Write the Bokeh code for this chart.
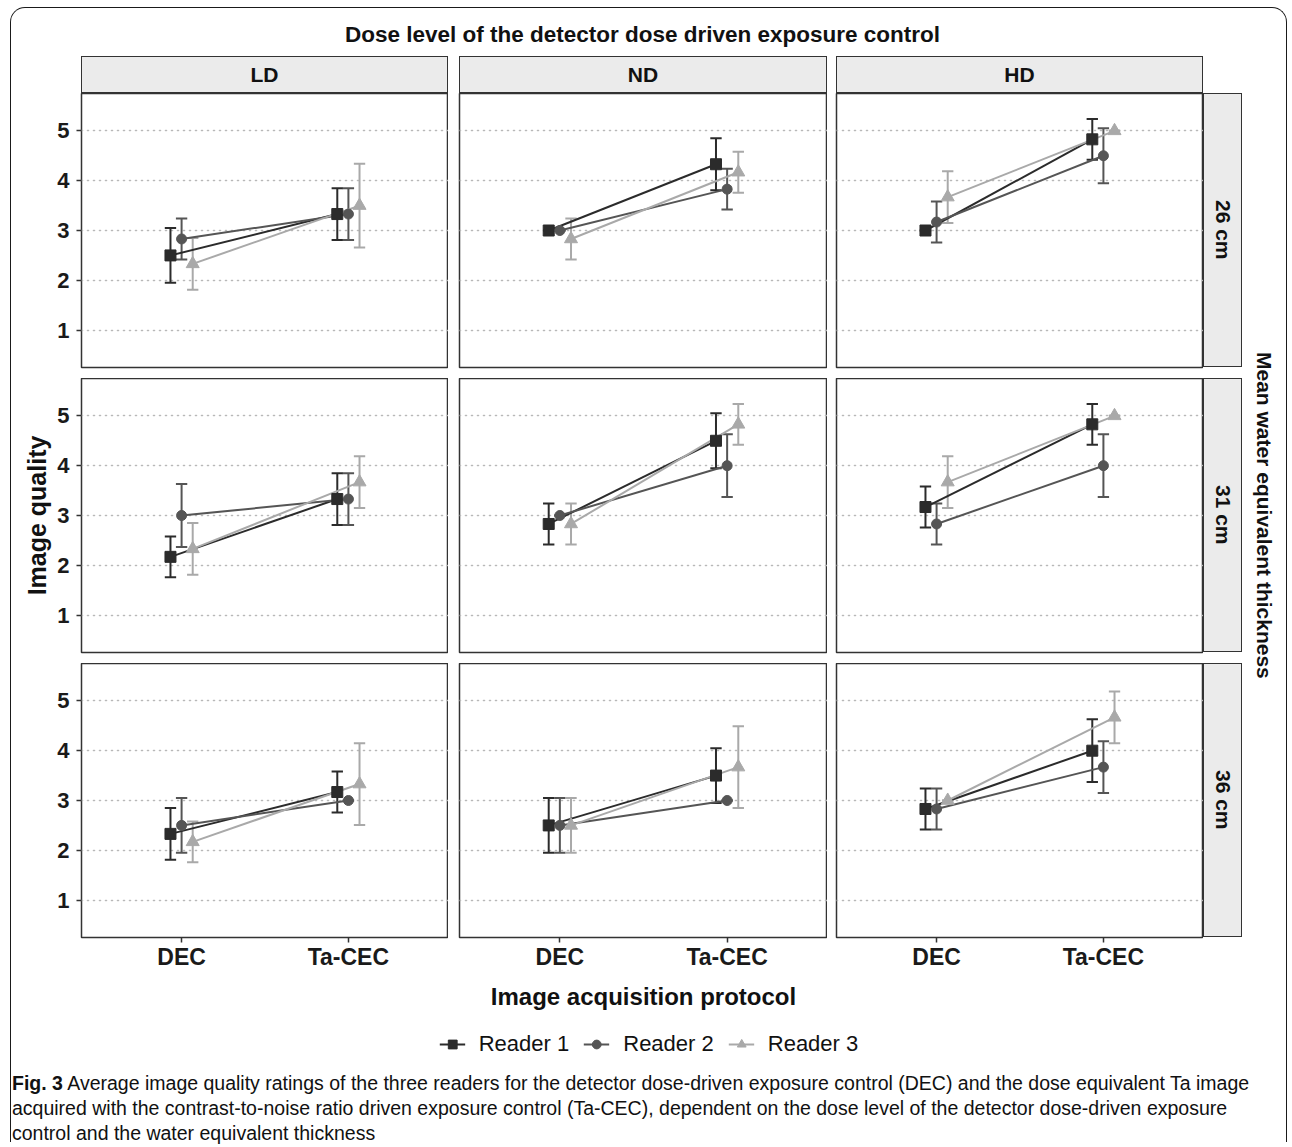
from bokeh.plotting import figure
from bokeh.layouts import row, column
from bokeh.models import Range1d, FixedTicker, Div, Spacer, Legend, LegendItem
from bokeh.embed import file_html
from bokeh.resources import INLINE

FONT = "Liberation Sans"

# ---------------- data ----------------
doses = ["LD", "ND", "HD"]
thicknesses = ["26 cm", "31 cm", "36 cm"]
protocols = ["DEC", "Ta-CEC"]
readers = ["Reader 1", "Reader 2", "Reader 3"]
y_ticks = [1, 2, 3, 4, 5]

# order: thickness (26, 31, 36) -> dose (LD, ND, HD) -> protocol (DEC, Ta-CEC)
reader1_mean = [2.50, 3.33, 3.00, 4.33, 3.00, 4.83,
                2.17, 3.33, 2.83, 4.50, 3.17, 4.83,
                2.33, 3.17, 2.50, 3.50, 2.83, 4.00]
reader1_sd = [0.55, 0.52, 0.00, 0.52, 0.00, 0.41,
              0.41, 0.52, 0.41, 0.55, 0.41, 0.41,
              0.52, 0.41, 0.55, 0.55, 0.41, 0.63]
reader2_mean = [2.83, 3.33, 3.00, 3.83, 3.17, 4.50,
                3.00, 3.33, 3.00, 4.00, 2.83, 4.00,
                2.50, 3.00, 2.50, 3.00, 2.83, 3.67]
reader2_sd = [0.41, 0.52, 0.00, 0.41, 0.41, 0.55,
              0.63, 0.52, 0.00, 0.63, 0.41, 0.63,
              0.55, 0.00, 0.55, 0.00, 0.41, 0.52]
reader3_mean = [2.33, 3.50, 2.83, 4.17, 3.67, 5.00,
                2.33, 3.67, 2.83, 4.83, 3.67, 5.00,
                2.17, 3.33, 2.50, 3.67, 3.00, 4.67]
reader3_sd = [0.52, 0.84, 0.41, 0.41, 0.52, 0.00,
              0.52, 0.52, 0.41, 0.41, 0.52, 0.00,
              0.41, 0.82, 0.55, 0.82, 0.00, 0.52]

means = [reader1_mean, reader2_mean, reader3_mean]
sds = [reader1_sd, reader2_sd, reader3_sd]

# ---------------- style ----------------
colors = ["#2b2b2b", "#555555", "#a9a9a9"]
markers = ["square", "circle", "triangle"]
msizes = [11, 10, 13]
dodge = [-0.2 / 3, 0.0, 0.2 / 3]
cap = 0.034

frame_w = [367, 368, 367]
left_b = [70, 11, 9]
frame_h = 274
row_gap = 11
bottom_b = 80

panels = []
for i, th in enumerate(thicknesses):
    rowfigs = []
    for j, dose in enumerate(doses):
        p = figure(frame_width=frame_w[j], frame_height=frame_h,
                   x_range=Range1d(0.4, 2.6), y_range=Range1d(0.25, 5.75),
                   x_axis_location="below" if i == 2 else None,
                   y_axis_location="left" if j == 0 else None,
                   output_backend="svg", toolbar_location=None, title=None,
                   min_border_left=left_b[j], min_border_right=0, min_border_top=0,
                   min_border_bottom=bottom_b if i == 2 else row_gap,
                   background_fill_color="white", border_fill_color=None,
                   outline_line_color="#333333", outline_line_width=1.5)
        p.xgrid.visible = False
        p.ygrid.ticker = FixedTicker(ticks=y_ticks)
        p.ygrid.grid_line_color = "#b8b8b8"
        p.ygrid.grid_line_dash = "1 5"
        p.ygrid.grid_line_width = 1.6
        p.ygrid.grid_line_cap = "round"
        if j == 0:
            ax = p.yaxis[0]
            ax.ticker = FixedTicker(ticks=y_ticks)
            ax.axis_line_color = None
            ax.major_tick_out = 5
            ax.major_tick_in = 0
            ax.minor_tick_out = 0
            ax.minor_tick_in = 0
            ax.major_tick_line_color = "#333333"
            ax.major_tick_line_width = 1.5
            ax.major_label_standoff = 7
            ax.major_label_text_font = FONT
            ax.major_label_text_font_size = "22px"
            ax.major_label_text_font_style = "bold"
            ax.major_label_text_color = "#1a1a1a"
            if i == 1:
                ax.axis_label = "Image quality"
                ax.axis_label_text_font = FONT
                ax.axis_label_text_font_size = "25px"
                ax.axis_label_text_font_style = "bold"
                ax.axis_label_text_color = "#111111"
                ax.axis_label_standoff = 3
        if i == 2:
            ax = p.xaxis[0]
            ax.ticker = FixedTicker(ticks=[1, 2])
            ax.major_label_overrides = {1: protocols[0], 2: protocols[1]}
            ax.axis_line_color = None
            ax.major_tick_out = 5
            ax.major_tick_in = 0
            ax.minor_tick_out = 0
            ax.minor_tick_in = 0
            ax.major_tick_line_color = "#333333"
            ax.major_tick_line_width = 1.5
            ax.major_label_standoff = 1
            ax.major_label_text_font = FONT
            ax.major_label_text_font_size = "23px"
            ax.major_label_text_font_style = "bold"
            ax.major_label_text_color = "#1a1a1a"
            if j == 1:
                ax.axis_label = "Image acquisition protocol"
                ax.axis_label_text_font = FONT
                ax.axis_label_text_font_size = "24px"
                ax.axis_label_text_font_style = "bold"
                ax.axis_label_text_color = "#111111"
                ax.axis_label_standoff = 10

        k = i * 6 + j * 2
        for r in range(3):
            xs = [1 + dodge[r], 2 + dodge[r]]
            ms = [means[r][k], means[r][k + 1]]
            ss = [sds[r][k], sds[r][k + 1]]
            lo = [m - s for m, s in zip(ms, ss)]
            hi = [m + s for m, s in zip(ms, ss)]
            p.segment(x0=xs, y0=lo, x1=xs, y1=hi, line_color=colors[r], line_width=2)
            p.segment(x0=[x - cap for x in xs] * 2, y0=lo + hi,
                      x1=[x + cap for x in xs] * 2, y1=lo + hi,
                      line_color=colors[r], line_width=2)
        for r in range(3):
            xs = [1 + dodge[r], 2 + dodge[r]]
            ms = [means[r][k], means[r][k + 1]]
            p.line(x=xs, y=ms, line_color=colors[r], line_width=2)
        for r in range(3):
            xs = [1 + dodge[r], 2 + dodge[r]]
            ms = [means[r][k], means[r][k + 1]]
            p.scatter(x=xs, y=ms, marker=markers[r], size=msizes[r],
                      fill_color=colors[r], line_color=colors[r])
        rowfigs.append(p)
    panels.append(rowfigs)


def strip_top(text, w):
    return Div(width=w, height=37, margin=0, text=(
        f'<div style="width:{w}px;height:37px;box-sizing:border-box;border:1.5px solid #333;'
        f'background:#ebebeb;display:flex;align-items:center;justify-content:center;'
        f'font-family:\'{FONT}\';font-weight:bold;font-size:21px;color:#111;">{text}</div>'))


def strip_right(text):
    return Div(width=39, height=frame_h, margin=0, text=(
        f'<div style="width:39px;height:{frame_h}px;box-sizing:border-box;border:1.5px solid #333;'
        f'background:#ebebeb;display:flex;align-items:center;justify-content:center;'
        f'font-family:\'{FONT}\';font-weight:bold;font-size:21px;color:#111;'
        f'writing-mode:vertical-rl;">{text}</div>'))


content_w = 1275
title = Div(width=content_w, height=48, margin=0, text=(
    f'<div style="width:1263px;height:48px;box-sizing:border-box;padding-top:6px;display:flex;'
    f'align-items:center;justify-content:center;'
    f'font-family:\'{FONT}\';font-weight:bold;font-size:22.5px;color:#111;">'
    f'Dose level of the detector dose driven exposure control</div>'))

top_strips = row(Spacer(width=left_b[0], height=37), strip_top(doses[0], frame_w[0]),
                 Spacer(width=left_b[1], height=37), strip_top(doses[1], frame_w[1]),
                 Spacer(width=left_b[2], height=37), strip_top(doses[2], frame_w[2]),
                 spacing=0)

cols = [column(*[panels[i][j] for i in range(3)], spacing=0) for j in range(3)]
right_strips = column(strip_right(thicknesses[0]), Spacer(width=39, height=row_gap),
                      strip_right(thicknesses[1]), Spacer(width=39, height=row_gap),
                      strip_right(thicknesses[2]),
                      spacing=0)
grid_h = 3 * frame_h + 2 * row_gap
right_title = Div(width=44, height=grid_h, margin=0, text=(
    f'<div style="width:44px;height:{grid_h}px;display:flex;align-items:center;justify-content:center;'
    f'font-family:\'{FONT}\';font-weight:bold;font-size:21px;color:#111;writing-mode:vertical-rl;">'
    f'Mean water equivalent thickness</div>'))

grid_row = row(*cols, right_strips, right_title, spacing=0)

# legend strip: hidden renderers (reader means of the first panel) carry the legend glyphs
lg = figure(width=content_w, height=53, x_range=Range1d(0.4, 2.6), y_range=Range1d(0.25, 5.75),
            x_axis_location=None, y_axis_location=None, output_backend="svg",
            toolbar_location=None, title=None, min_border=0, outline_line_color=None,
            border_fill_color=None, background_fill_color=None)
lg.xgrid.visible = False
lg.ygrid.visible = False
items = []
for r in range(3):
    xs = [1 + dodge[r], 2 + dodge[r]]
    ms = [means[r][0], means[r][1]]
    lr = lg.line(x=xs, y=ms, line_color=colors[r], line_width=2, visible=False)
    sr = lg.scatter(x=xs, y=ms, marker=markers[r], size=msizes[r] - 1,
                    fill_color=colors[r], line_color=colors[r], visible=False)
    items.append(LegendItem(label=readers[r], renderers=[lr, sr]))
legend = Legend(items=items, orientation="horizontal", location="center",
                border_line_color=None, background_fill_alpha=0,
                label_text_font=FONT, label_text_font_size="22px",
                label_text_color="#111111", glyph_width=26, glyph_height=22,
                label_standoff=14, spacing=14, padding=0, margin=0)
lg.add_layout(legend, "center")

caption = Div(width=content_w, height=72, margin=0, text=(
    f'<div style="font-family:\'{FONT}\';font-size:19.5px;line-height:25px;color:#111;'
    f'white-space:nowrap;padding-left:1px;padding-top:1px;">'
    f'<b>Fig. 3</b> Average image quality ratings of the three readers for the detector dose-driven '
    f'exposure control (DEC) and the dose equivalent Ta image<br>'
    f'acquired with the contrast-to-noise ratio driven exposure control (Ta-CEC), dependent on the dose '
    f'level of the detector dose-driven exposure<br>'
    f'control and the water equivalent thickness</div>'))

layout = column(title, top_strips, grid_row, lg, caption, spacing=0, margin=(7, 0, 0, 10),
                styles={"border": "1.5px solid #1a1a1a", "border-bottom": "none",
                        "border-radius": "15px 15px 0 0"})

open("out.html", "w").write(file_html(layout, INLINE))
